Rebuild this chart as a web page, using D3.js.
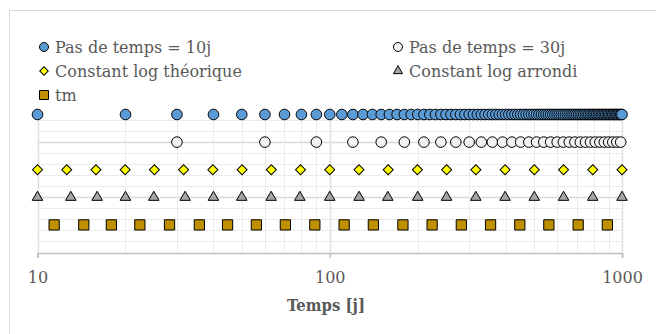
<!DOCTYPE html>
<html>
<head>
<meta charset="utf-8">
<script src="https://cdn.jsdelivr.net/npm/d3@7"></script>
<style>
  html, body { margin: 0; padding: 0; background: #fff; }
  svg { display: block; }
  text { font-family: "DejaVu Serif", "Liberation Serif", serif; fill: #595959; }
</style>
</head>
<body>
<svg id="chart" width="656" height="334"></svg>
<script>
// Time samples (days) for each discretisation scheme
const pas10 = [10,20,30,40,50,60,70,80,90,100,110,120,130,140,150,160,170,180,190,200,
  210,220,230,240,250,260,270,280,290,300,310,320,330,340,350,360,370,380,390,400,
  410,420,430,440,450,460,470,480,490,500,510,520,530,540,550,560,570,580,590,600,
  610,620,630,640,650,660,670,680,690,700,710,720,730,740,750,760,770,780,790,800,
  810,820,830,840,850,860,870,880,890,900,910,920,930,940,950,960,970,980,990,1000];
const pas30 = [30,60,90,120,150,180,210,240,270,300,330,360,390,420,450,480,510,540,570,600,
  630,660,690,720,750,780,810,840,870,900,930,960,990];
const logTheorique = [10,12.59,15.85,19.95,25.12,31.62,39.81,50.12,63.10,79.43,
  100,125.9,158.5,199.5,251.2,316.2,398.1,501.2,631.0,794.3,1000];
const logArrondi = [10,13,16,20,25,32,40,50,63,79,100,126,158,200,251,316,398,501,631,794,1000];
const tm = [11.4,14.4,17.9,22.4,28.3,35.8,44.7,56.1,70.5,88.9,112,141,178,224,282,355,447,562,708,891];

// Row level of each series on the (hidden) vertical axis
const rowLevels = [5, 4, 3, 2, 1];
const seriesNames = ["Pas de temps = 10j", "Pas de temps = 30j", "Constant log théorique", "Constant log arrondi", "tm"];

const xTickValues = [10, 100, 1000];
const xTickLabels = ["10", "100", "1000"];
const xMinorValues = [20,30,40,50,60,70,80,90,200,300,400,500,600,700,800,900];
const xTitle = "Temps [j]";

const series = [
  { name: seriesNames[0], values: pas10, level: rowLevels[0], shape: "circle", fill: "#5B9BD5" },
  { name: seriesNames[1], values: pas30, level: rowLevels[1], shape: "circle", fill: "#F2F2F2" },
  { name: seriesNames[2], values: logTheorique, level: rowLevels[2], shape: "diamond", fill: "#FFFF00" },
  { name: seriesNames[3], values: logArrondi, level: rowLevels[3], shape: "triangle", fill: "#A5A5A5" },
  { name: seriesNames[4], values: tm, level: rowLevels[4], shape: "square", fill: "#BF9000" }
];

const svg = d3.select("#chart");

// Chart frame
svg.append("rect")
  .attr("x", 9.5).attr("y", 10.5)
  .attr("width", 660).attr("height", 340)
  .attr("fill", "#fff").attr("stroke", "#D9D9D9");

const x = d3.scaleLog().domain([10, 1000]).range([37.5, 622]);
const y = d3.scaleLinear().domain([0, 5]).range([252.5, 114.5]);

const grid = svg.append("g");
// Horizontal gridlines (minor every 0.4, major every 2)
const hMinor = d3.range(1, 13).map(i => +(i * 0.4).toFixed(1));
grid.selectAll("line.hmin").data(hMinor).join("line")
  .attr("x1", x(10)).attr("x2", x(1000))
  .attr("y1", d => Math.round(y(d)) + 0.5).attr("y2", d => Math.round(y(d)) + 0.5)
  .attr("stroke", d => (d === 2 || d === 4) ? "#D9D9D9" : "#EBEBEB")
  .attr("stroke-width", d => (d === 2 || d === 4) ? 1.5 : 1);

// Vertical gridlines
grid.selectAll("line.vmin").data(xMinorValues.concat(xTickValues)).join("line")
  .attr("x1", d => Math.round(x(d)) + 0.5).attr("x2", d => Math.round(x(d)) + 0.5)
  .attr("y1", y(5)).attr("y2", y(0))
  .attr("stroke", d => xTickValues.includes(d) ? "#E0E0E0" : "#EBEBEB")
  .attr("stroke-width", d => xTickValues.includes(d) ? 1.5 : 1);

// Bottom axis
const xAxis = d3.axisBottom(x)
  .tickValues(xTickValues)
  .tickFormat((d, i) => xTickLabels[i])
  .tickSize(5)
  .tickPadding(14);
const axisG = svg.append("g")
  .attr("transform", `translate(0,${y(0) + 0.5})`)
  .call(xAxis);
axisG.select(".domain").attr("stroke", "#BFBFBF").attr("stroke-width", 1.5);
axisG.selectAll(".tick line").attr("stroke", "#BFBFBF").attr("stroke-width", 1.5);
axisG.selectAll(".tick text")
  .attr("fill", "#595959")
  .style("font-family", '"DejaVu Serif", serif')
  .style("font-size", "16px");

// Axis title
svg.append("text")
  .attr("x", 326).attr("y", 311)
  .attr("text-anchor", "middle")
  .attr("textLength", 78)
  .attr("lengthAdjust", "spacingAndGlyphs")
  .style("font-family", '"DejaVu Serif", serif')
  .style("font-weight", "bold")
  .style("font-size", "17px")
  .attr("fill", "#595959")
  .text(xTitle);

// Marker shapes
const symbolFor = {
  circle: d3.symbol().type(d3.symbolCircle).size(Math.PI * 5.3 * 5.3),
  diamond: d3.symbol().type(d3.symbolSquare).size(50),
  triangle: d3.symbol().type(d3.symbolTriangle).size(48),
  square: d3.symbol().type(d3.symbolSquare).size(105)
};
const legendSymbol = {
  circle: d3.symbol().type(d3.symbolCircle).size(Math.PI * 4.5 * 4.5),
  diamond: d3.symbol().type(d3.symbolSquare).size(36),
  triangle: d3.symbol().type(d3.symbolTriangle).size(36),
  square: d3.symbol().type(d3.symbolSquare).size(81)
};
function rot(shape) { return shape === "diamond" ? " rotate(45)" : ""; }

const marks = svg.append("g");
series.forEach(s => {
  marks.append("g").selectAll("path").data(s.values).join("path")
    .attr("d", symbolFor[s.shape]())
    .attr("transform", d => `translate(${x(d)},${y(s.level)})${rot(s.shape)}`)
    .attr("fill", s.fill)
    .attr("stroke", "#000")
    .attr("stroke-width", 1);
});

// Legend
const legendPos = [
  { mx: 44, ty: 47 }, { mx: 398, ty: 47 },
  { mx: 44, ty: 71 }, { mx: 398, ty: 71 },
  { mx: 44, ty: 95 }
];
const legend = svg.append("g");
series.forEach((s, i) => {
  const p = legendPos[i];
  legend.append("path")
    .attr("d", legendSymbol[s.shape]())
    .attr("transform", `translate(${p.mx},${p.ty})${rot(s.shape)}`)
    .attr("fill", s.fill).attr("stroke", "#000").attr("stroke-width", 1);
  legend.append("text")
    .attr("x", p.mx + 11).attr("y", p.ty + 6)
    .style("font-size", "16px")
    .attr("fill", "#595959")
    .text(s.name);
});
</script>
</body>
</html>
